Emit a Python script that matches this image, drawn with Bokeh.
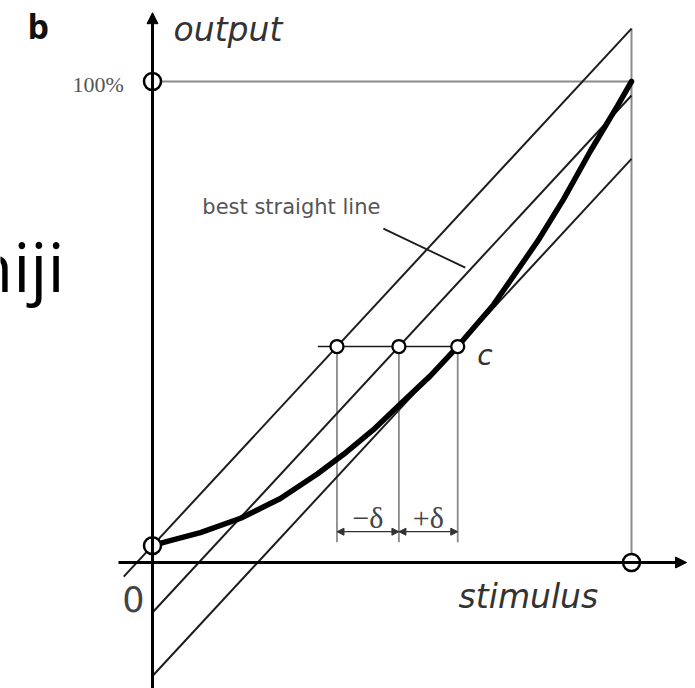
from bokeh.plotting import figure
from bokeh.models import Range1d, Arrow, NormalHead, Label
from bokeh.embed import file_html
from bokeh.resources import INLINE

# Static characteristic of the sensor, both axes normalised to full scale
stimulus = [0.0, 0.031, 0.100, 0.184, 0.267, 0.344, 0.399, 0.460, 0.518,
            0.580, 0.637, 0.712, 0.804, 0.858, 0.914, 0.971, 1.0]
output = [0.035, 0.044, 0.062, 0.092, 0.133, 0.184, 0.225, 0.275, 0.330,
          0.388, 0.449, 0.536, 0.668, 0.755, 0.855, 0.950, 1.0]

# Three parallel straight lines: upper bound, best straight line, lower bound
line_slope = 1.075
line_intercepts = [0.035, -0.104, -0.236]
line_x_start = [-0.06, 0.0, 0.0]

# Output level of the point c where the lower bound touches the curve
c_level = 0.449
full_scale = 1.0

# Canvas geometry: pixel position of the origin and pixels per unit
W, H = 695, 688
X0_PX, Y0_PX = 152, 562
PX_X, PX_Y = 479, 481

p = figure(width=W, height=H,
           x_range=Range1d(-X0_PX / PX_X, (W - X0_PX) / PX_X),
           y_range=Range1d(-(H - Y0_PX) / PX_Y, Y0_PX / PX_Y),
           x_axis_type=None, y_axis_type=None,
           output_backend="svg", toolbar_location=None,
           min_border=0, outline_line_color=None,
           background_fill_color="white", border_fill_color="white")
p.grid.visible = False

GRAY = "#8a8a8a"
INK = "#1c1c1c"

# where each parallel line crosses the level of c
cross_x = [(c_level - b) / line_slope for b in line_intercepts]
upper_top = line_intercepts[0] + line_slope * full_scale

# full-scale guide lines
p.line([0, full_scale], [full_scale, full_scale], line_color=GRAY, line_width=2)
p.line([full_scale, full_scale], [0, upper_top], line_color=GRAY, line_width=2)

# vertical projections from the three crossings
dim_y = 0.064
for cx in cross_x:
    p.line([cx, cx], [c_level, dim_y - 0.022], line_color=GRAY, line_width=1.8)

# horizontal line at the level of c
p.line([cross_x[0] - 0.04, cross_x[2]], [c_level, c_level], line_color=INK, line_width=1.6)

# the three parallel lines
for b, xs in zip(line_intercepts, line_x_start):
    p.line([xs, full_scale], [b + line_slope * xs, b + line_slope * full_scale],
           line_color=INK, line_width=2)

# leader for the "best straight line" label
p.line([0.482, 0.653], [0.694, 0.613], line_color=INK, line_width=1.8)

# the characteristic itself
p.line(stimulus, output, line_color="black", line_width=5.5, line_cap="round")

# axes with arrow heads
p.add_layout(Arrow(x_start=0, y_start=-(H - Y0_PX) / PX_Y, x_end=0, y_end=1.143,
                   line_color="black", line_width=3,
                   end=NormalHead(size=11, fill_color="black", line_color="black")))
p.add_layout(Arrow(x_start=-0.071, y_start=0, x_end=1.115, y_end=0,
                   line_color="black", line_width=3,
                   end=NormalHead(size=11, fill_color="black", line_color="black")))

# ±δ dimension arrows
for x_end in (cross_x[0], cross_x[2]):
    p.add_layout(Arrow(x_start=cross_x[1], y_start=dim_y, x_end=x_end, y_end=dim_y,
                       line_color="#333333", line_width=1.3,
                       start=NormalHead(size=7, fill_color="#333333", line_color="#333333"),
                       end=NormalHead(size=7, fill_color="#333333", line_color="#333333")))

# marked points: start of the characteristic, full-scale output, full-scale stimulus
p.scatter([stimulus[0], 0, full_scale], [output[0], full_scale, 0],
          size=17, marker="circle", fill_color="white", line_color="black", line_width=2.5)
p.scatter(cross_x, [c_level] * 3, size=13, marker="circle",
          fill_color="white", line_color="black", line_width=2.3)


def label(x, y, text, size, lift=0, font="DejaVu Sans", style="normal",
          color="#333333", align="left"):
    # lift: pixels to raise the text above the given baseline position
    p.add_layout(Label(x=x, y=y + lift / PX_Y, text=text, text_font=font,
                       text_font_size=f"{size}px", text_font_style=style,
                       text_color=color, text_align=align,
                       text_baseline="alphabetic"))


label(0.044, 1.091, "output", 33, lift=8, style="italic")
label(0.639, -0.087, "stimulus", 33, lift=8, style="italic")
label(-0.060, 0.975, "100%", 22, lift=9, font="Liberation Serif", color="#555555", align="right")
label(-0.063, -0.104, "0", 35, lift=14, color="#444444")
label(0.678, 0.418, "c", 28, lift=6, style="italic")
label(0.104, 0.723, "best straight line", 21, lift=8, color="#555555")
label((cross_x[0] + cross_x[1]) / 2, 0.077, "−δ", 30, lift=8,
      font="Liberation Serif", color="#444444", align="center")
label((cross_x[1] + cross_x[2]) / 2, 0.077, "+δ", 30, lift=8,
      font="Liberation Serif", color="#444444", align="center")
label(-0.261, 1.091, "b", 34, lift=12, font="Open Sans", style="bold", color="#111111")
label(-0.378, 0.565, "hiji", 68, lift=25, font="Open Sans", color="black")

open("out.html", "w").write(file_html(p, INLINE))
